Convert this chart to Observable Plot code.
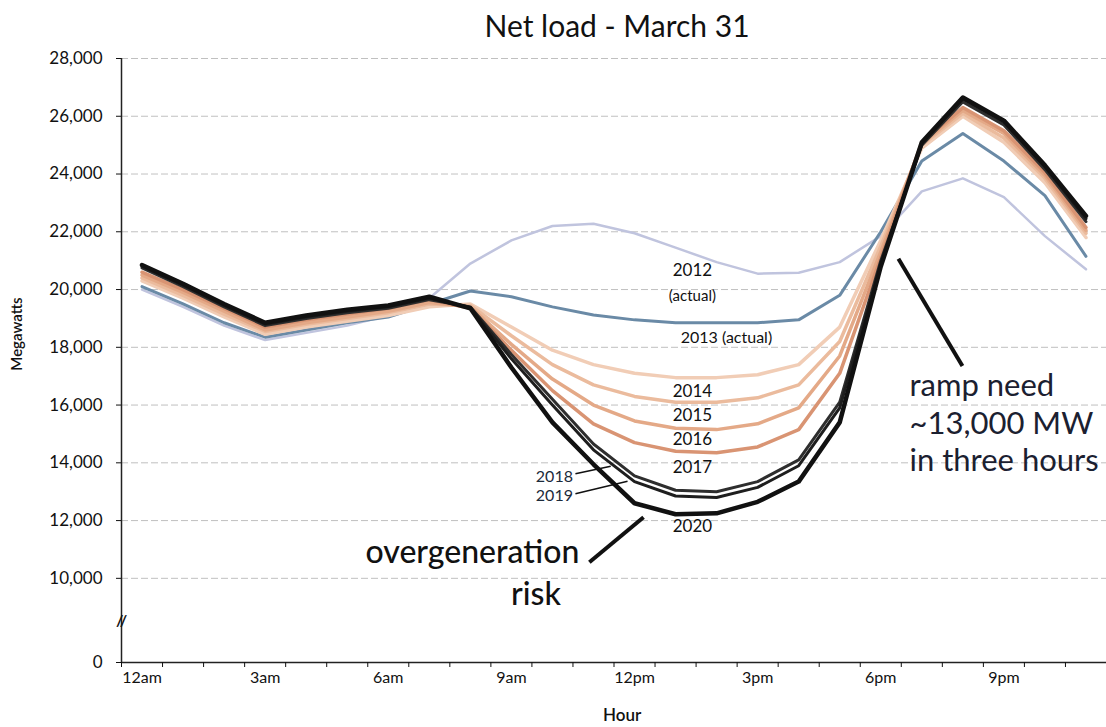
<!DOCTYPE html>
<html>
<head>
<meta charset="utf-8">
<script src="https://cdn.jsdelivr.net/npm/d3@7"></script>
<script src="https://cdn.jsdelivr.net/npm/@observablehq/plot@0.6"></script>
<style>
  body { margin: 0; background: #fff; font-family: Lato, "Open Sans", sans-serif; }
  #title { width: 1106px; height: 45px; line-height: 50px; font-size: 30px; color: #111;
           text-align: center; padding-left: 128px; box-sizing: border-box; }
</style>
</head>
<body>
<div id="title">Net load - March 31</div>
<div id="chart"></div>
<script>
// ---- data ----
const hourSlots = [0,1,2,3,4,5,6,7,8,9,10,11,12,13,14,15,16,17,18,19,20,21,22,23];
const tickHours = [0,3,6,9,12,15,18,21];
const tickLabels = ["12am","3am","6am","9am","12pm","3pm","6pm","9pm"];
const minorTicks = [0,1,2,3,4,5,6,7,8,9,10,11,12,13,14,15,16,17,18,19,20,21,22,23,24];
const yTicks = [0,10000,12000,14000,16000,18000,20000,22000,24000,26000,28000];
const gridValues = [10000,12000,14000,16000,18000,20000,22000,24000,26000,28000];
const years = ["2012","2013","2014","2015","2016","2017","2018","2019","2020"];

const load2012 = [20000,19400,18750,18250,18500,18750,19100,19700,20900,21700,22200,22280,21950,21450,20950,20550,20580,20950,21850,23400,23850,23200,21850,20700];
const load2013 = [20100,19500,18850,18350,18600,18850,19050,19500,19950,19750,19400,19120,18950,18850,18850,18850,18950,19800,22000,24450,25400,24450,23250,21150];
const load2014 = [20300,19700,19050,18450,18700,18900,19100,19400,19500,18700,17900,17400,17100,16950,16950,17050,17400,18700,21700,24900,26000,25100,23700,21800];
const load2015 = [20400,19800,19150,18550,18800,19000,19200,19500,19450,18400,17400,16700,16300,16100,16100,16250,16700,18200,21500,25000,26100,25250,23850,21950];
const load2016 = [20500,19900,19250,18600,18850,19050,19250,19550,19400,18100,16900,16000,15450,15200,15150,15350,15900,17700,21300,25050,26200,25400,23950,22050];
const load2017 = [20600,20000,19350,18700,18950,19150,19350,19650,19350,17900,16500,15350,14700,14400,14350,14550,15150,17100,21100,25100,26300,25500,24050,22150];
const load2018 = [20750,20100,19400,18750,19000,19200,19350,19650,19400,17750,16200,14650,13550,13050,13000,13350,14100,16100,21000,25000,26500,25700,24150,22350];
const load2019 = [20800,20150,19450,18800,19050,19250,19400,19700,19380,17600,16000,14450,13350,12850,12800,13150,13900,15900,20900,25050,26600,25800,24250,22450];
const load2020 = [20850,20200,19500,18850,19100,19300,19450,19750,19350,17300,15400,13950,12600,12220,12250,12650,13350,15400,20800,25100,26650,25850,24300,22550];
const seriesLoads = [load2012,load2013,load2014,load2015,load2016,load2017,load2018,load2019,load2020];

// annotation texts and anchors (hour, MW)
const yearNotes = [
  {text:"2012", hour:13.91, mw:20650, size:17},
  {text:"(actual)", hour:13.91, mw:19780, size:15},
  {text:"2013 (actual)", hour:14.74, mw:18325, size:16},
  {text:"2014", hour:13.91, mw:16485, size:17},
  {text:"2015", hour:13.91, mw:15650, size:17},
  {text:"2016", hour:13.91, mw:14820, size:17},
  {text:"2017", hour:13.91, mw:13850, size:17},
  {text:"2020", hour:13.91, mw:11800, size:17}
];
const sideNotes = [
  {text:"2018", hour:11.0, mw:13520},
  {text:"2019", hour:11.0, mw:12860}
];
const bigNotes = [
  {text:"overgeneration", hour:8.55, mw:10870},
  {text:"risk", hour:10.1, mw:8050}
];
const rampNotes = [
  {text:"ramp need", hour:19.2, mw:16660},
  {text:"~13,000 MW", hour:19.2, mw:15340},
  {text:"in three hours", hour:19.2, mw:14060}
];
const pointers = [
  {x1:11.06, y1:13620, x2:11.92, y2:13885, w:1.5},
  {x1:11.06, y1:12930, x2:12.33, y2:13365, w:1.5},
  {x1:11.4, y1:10560, x2:12.72, y2:12115, w:4},
  {x1:20.49, y1:17350, x2:18.93, y2:21065, w:4}
];

// ---- styles ----
const lineStyle = {
  "2012": {stroke:"#c0c4de", w:2.5},
  "2013": {stroke:"#6a8aa6", w:3},
  "2014": {stroke:"#f1cdb6", w:3.5},
  "2015": {stroke:"#ebbb9d", w:3.5},
  "2016": {stroke:"#e4a987", w:3.5},
  "2017": {stroke:"#d99473", w:3.5},
  "2018": {stroke:"#2e2e2e", w:3},
  "2019": {stroke:"#1e1e1e", w:3},
  "2020": {stroke:"#111111", w:4.5}
};

// broken axis: the 0–10,000 segment is compressed
const breakAt = 10000, squeeze = 0.2914;
const yBreak = v => v >= breakAt ? v : breakAt - (breakAt - v) * squeeze;
const commaFmt = d3.format(",");

const rows = years.flatMap((yr, k) => hourSlots.map((h, i) => ({year: yr, hour: h + 0.5, mw: seriesLoads[k][i]})));
const labelMap = new Map(tickHours.map((h, i) => [h + 0.5, tickLabels[i]]));

const lineMarks = years.map(yr => Plot.line(rows.filter(d => d.year === yr), {
  x: "hour", y: "mw", stroke: lineStyle[yr].stroke, strokeWidth: lineStyle[yr].w, strokeLinejoin: "round"
}));

const chart = Plot.plot({
  width: 1106,
  height: 682,
  marginLeft: 121,
  marginRight: 0,
  marginTop: 13,
  marginBottom: 65,
  style: {fontFamily: "Lato, 'Open Sans', sans-serif", background: "white", color: "#111"},
  x: {domain: [0, 24]},
  y: {type: "linear", transform: yBreak, domain: [yBreak(0), 28000]},
  marks: [
    Plot.ruleY(gridValues, {stroke: "#8d8d8d", strokeDasharray: "7,3", strokeOpacity: 0.55}),
    ...lineMarks,
    Plot.ruleX([0], {stroke: "#222", strokeWidth: 1.5}),
    Plot.ruleY([0], {stroke: "#222", strokeWidth: 1.5}),
    Plot.axisY({ticks: yTicks.map(yBreak), tickSize: 5, tickPadding: 14,
                tickFormat: d => d < breakAt ? "0" : commaFmt(d), fontSize: 17, label: null}),
    Plot.axisX({ticks: minorTicks, tickSize: 5, tickFormat: () => "", label: null}),
    Plot.axisX({ticks: tickHours.map(h => h + 0.5), tickSize: 0, tickPadding: 9, tickFormat: d => labelMap.get(d), fontSize: 16, label: null}),
    Plot.text(["//"], {frameAnchor: "left", y: 4900, textAnchor: "middle", fontSize: 16, fontWeight: "bold"}),
    Plot.text(["Megawatts"], {frameAnchor: "left", y: 18460, dx: -104, rotate: -90, textAnchor: "middle", fontSize: 15, fontWeight: 600}),
    Plot.text(["Hour"], {frameAnchor: "bottom", x: 12.2, dy: 53, lineAnchor: "middle", fontSize: 17, fontWeight: 600}),
    Plot.link(pointers, {x1: "x1", y1: "y1", x2: "x2", y2: "y2", stroke: "#111", strokeWidth: "w"}),
    Plot.text(yearNotes, {x: "hour", y: "mw", text: "text", fontSize: d => d.size, fill: "#111"}),
    Plot.text(sideNotes, {x: "hour", y: "mw", text: "text", fontSize: 16, textAnchor: "end", fill: "#1c2a3a"}),
    Plot.text(bigNotes, {x: "hour", y: "mw", text: "text", fontSize: 32, fontWeight: 500, fill: "#111"}),
    Plot.text(rampNotes, {x: "hour", y: "mw", text: "text", fontSize: 31, textAnchor: "start", fill: "#1b2030"})
  ]
});
document.getElementById("chart").appendChild(chart);
</script>
</body>
</html>
